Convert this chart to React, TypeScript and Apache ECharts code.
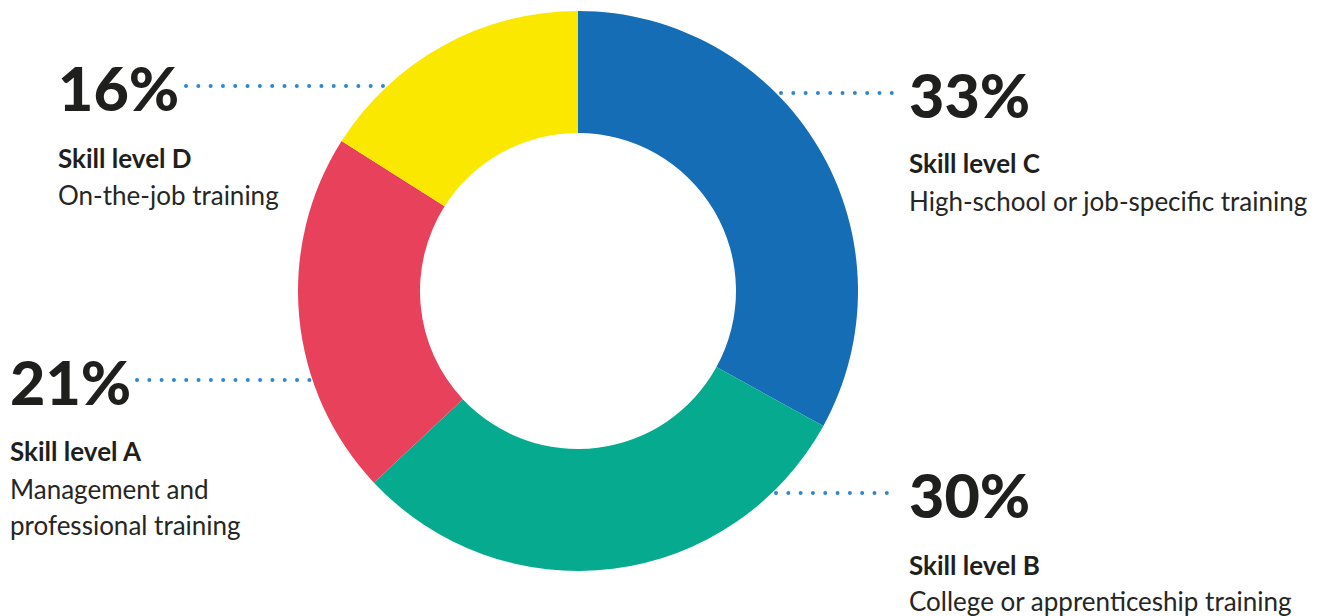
import React, { useEffect, useRef } from "react";
import * as echarts from "echarts";

const categories = ["Skill level C", "Skill level B", "Skill level A", "Skill level D"];
const values = [33, 30, 21, 16];
const descriptions = [
  ["High-school or job-specific training"],
  ["College or apprenticeship training"],
  ["Management and", "professional training"],
  ["On-the-job training"],
];
const colors = ["#156db5", "#06ab8f", "#e8415b", "#fae800"];

// layout of the callouts (pixel positions)
const layout = [
  { x: 909, pctY: 93, lineFrom: 781, lineTo: 897, titleY: 163, descY: 201 },
  { x: 909, pctY: 493, lineFrom: 776, lineTo: 892, titleY: 565, descY: 601 },
  { x: 10, pctY: 380, lineFrom: 137, lineTo: 310, titleY: 451, descY: 489 },
  { x: 58, pctY: 86, lineFrom: 186, lineTo: 384, titleY: 158, descY: 195 },
];

const FONT = "Lato, 'Open Sans', sans-serif";

export default function App() {
  const ref = useRef<HTMLDivElement>(null);
  useEffect(() => {
    const chart = echarts.init(ref.current!, null, { renderer: "svg" });
    const graphics: any[] = [];
    categories.forEach((cat, i) => {
      const L = layout[i];
      graphics.push({
        type: "line",
        shape: { x1: L.lineFrom, y1: L.pctY, x2: L.lineTo, y2: L.pctY },
        style: { stroke: "#2f87d1", lineWidth: 4, lineDash: [0.01, 12.3], lineCap: "round" },
        silent: true,
      });
      graphics.push({
        type: "text",
        style: {
          text: `${values[i]}%`,
          x: L.x,
          y: L.pctY + 1,
          font: `900 61px ${FONT}`,
          fill: "#1f1f1d",
          align: "left",
          verticalAlign: "middle",
        },
      });
      graphics.push({
        type: "text",
        style: {
          text: cat,
          x: L.x,
          y: L.titleY,
          font: `bold 26px ${FONT}`,
          fill: "#1f1f1d",
          align: "left",
          verticalAlign: "middle",
        },
      });
      descriptions[i].forEach((d, j) => {
        graphics.push({
          type: "text",
          style: {
            text: d,
            x: L.x,
            y: L.descY + j * 36,
            font: `normal 26px ${FONT}`,
            fill: "#262624",
            align: "left",
            verticalAlign: "middle",
          },
        });
      });
    });

    chart.setOption({
      animation: false,
      backgroundColor: "#ffffff",
      series: [
        {
          type: "pie",
          center: [578, 291],
          radius: [158, 280],
          startAngle: 90,
          clockwise: true,
          label: { show: false },
          labelLine: { show: false },
          itemStyle: { borderWidth: 0 },
          emphasis: { disabled: true },
          data: categories.map((c, i) => ({
            name: c,
            value: values[i],
            itemStyle: { color: colors[i] },
          })),
        },
      ],
      graphic: graphics,
    });
    return () => chart.dispose();
  }, []);
  return (
    <div
      ref={ref}
      style={{ position: "fixed", left: 0, top: 0, width: 1331, height: 616, background: "#fff" }}
    />
  );
}
